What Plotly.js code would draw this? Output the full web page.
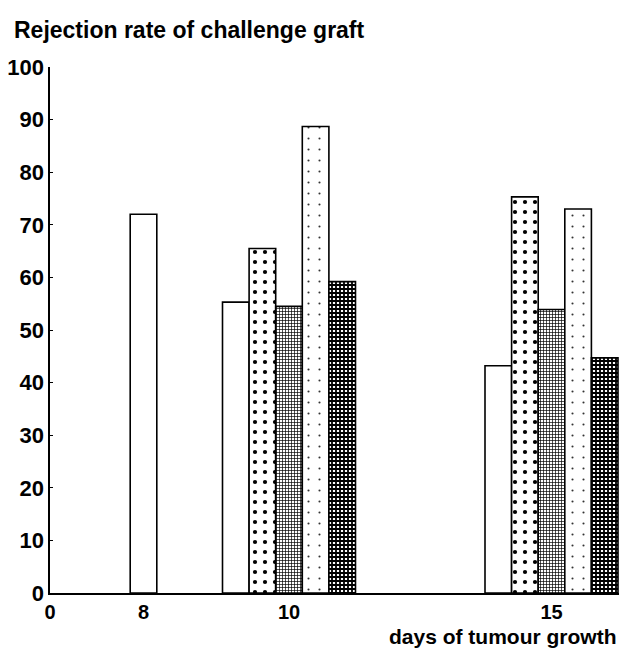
<!DOCTYPE html>
<html>
<head>
<meta charset="utf-8">
<script src="https://cdn.plot.ly/plotly-3.0.1.min.js"></script>
<style>html,body{margin:0;padding:0;background:#fff;}#chart{width:619px;height:649px;}</style>
</head>
<body>
<div id="chart"></div>
<script>
// ---- data ----
const days = ["8", "10", "15"];
const openBars = [72, 55.3, 43.2];
const dottedBars = [null, 65.5, 75.3];
const gridBars = [null, 54.5, 53.9];
const speckledBars = [null, 88.7, 73];
const darkBars = [null, 59.2, 44.7];
const yTicks = [0, 10, 20, 30, 40, 50, 60, 70, 80, 90, 100];
const xTickText = ["0", "8", "10", "15"];

// ---- layout helpers (positions on a slot scale, not data) ----
const slotPos = [93.5, 239, 501.5];
const W = 26.6;
const outline = {color: "#000", width: 1.6};

function bar(vals, offsets, pattern, bg) {
  return {
    type: "bar",
    x: slotPos,
    y: vals,
    width: W,
    offset: offsets,
    hovertext: days,
    showlegend: false,
    marker: {color: bg || "#fff", line: outline, pattern: pattern}
  };
}

const traces = [
  bar(openBars, [-W / 2, -2.5 * W, -2.5 * W], {shape: ""}),
  bar(dottedBars, -1.5 * W, {shape: ".", size: 10, solidity: 0.14, fgcolor: "#000", bgcolor: "#fff"}),
  bar(gridBars, -0.5 * W, {shape: "+", size: 3, solidity: 0.4, fgcolor: "#000", bgcolor: "#fff"}),
  bar(speckledBars, 0.5 * W, {shape: ".", size: 11, solidity: 0.03, fgcolor: "#333", bgcolor: "#fff"}),
  bar(darkBars, 1.5 * W, {shape: "+", size: 4, solidity: 0.7, fgcolor: "#000", bgcolor: "#fff"})
];

const yTickFont = {family: "Liberation Sans, Arial, sans-serif", size: 22, color: "#000", weight: "bold"};
const xTickFont = {family: "Liberation Sans, Arial, sans-serif", size: 20, color: "#000", weight: "bold"};
const titleFont = {family: "Liberation Sans, Arial, sans-serif", size: 23, color: "#000", weight: "bold"};
const xTitleFont = {family: "Liberation Sans, Arial, sans-serif", size: 21, color: "#000", weight: "bold"};

const layout = {
  width: 619,
  height: 649,
  margin: {l: 50, r: 0, t: 67, b: 56},
  paper_bgcolor: "#fff",
  plot_bgcolor: "#fff",
  barmode: "overlay",
  title: {
    text: "Rejection rate of challenge graft",
    xref: "container", yref: "container",
    x: 14 / 619, xanchor: "left",
    y: 1 - 30 / 649, yanchor: "middle",
    font: titleFont
  },
  xaxis: {
    range: [0, 569],
    tickvals: [0].concat(slotPos),
    ticktext: xTickText,
    ticks: "",
    showgrid: false,
    zeroline: false,
    showline: true,
    linecolor: "#000",
    linewidth: 1.6,
    tickfont: xTickFont,
    fixedrange: true
  },
  yaxis: {
    range: [0, 100],
    tickvals: yTicks,
    ticks: "inside",
    ticklen: 3,
    tickcolor: "#000",
    showgrid: false,
    zeroline: false,
    showline: true,
    linecolor: "#000",
    linewidth: 1.6,
    tickfont: yTickFont,
    ticklabelstandoff: 0,
    fixedrange: true
  },
  annotations: [{
    text: "days of tumour growth",
    xref: "paper", yref: "paper",
    x: 1, xanchor: "right",
    y: -43 / 526, yanchor: "middle",
    showarrow: false,
    font: xTitleFont
  }]
};

Plotly.newPlot("chart", traces, layout, {displayModeBar: false, staticPlot: true});
</script>
</body>
</html>
